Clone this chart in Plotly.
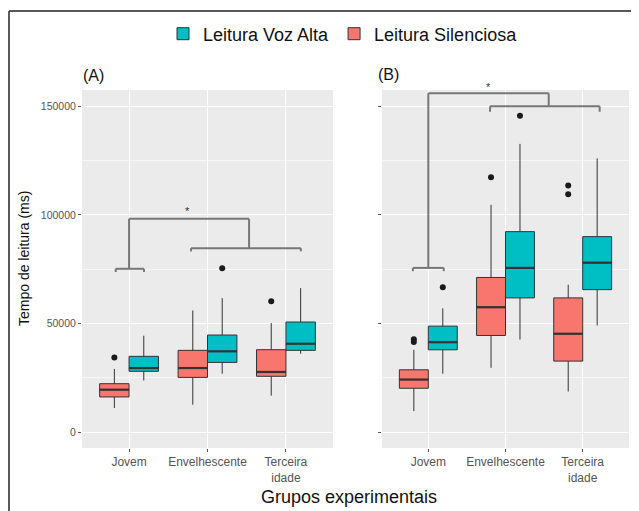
import plotly.graph_objects as go

# Page is 639x511 but the browser's default body margin offsets the figure by 8px.
OFF = 8
W, H = 639 - OFF, 511 - OFF

def px(x):
    return (x - OFF) / W

def py(y):
    return 1 - (y - OFF) / H

categories = ["Jovem", "Envelhescente", "Terceira<br>idade"]
series_names = ["Leitura Voz Alta", "Leitura Silenciosa"]

# Panel A stats: [low whisker, q1, median, q3, high whisker]
a_silent_low = [11100, 12650, 16800]
a_silent_q1 = [16200, 25200, 25700]
a_silent_med = [19550, 29500, 27700]
a_silent_q3 = [22300, 37650, 37950]
a_silent_high = [29100, 56000, 50200]
a_silent_out_cat = [1, 3]
a_silent_out_val = [34400, 60200]

a_voz_low = [23800, 26900, 36100]
a_voz_q1 = [28000, 32100, 37650]
a_voz_med = [29500, 37200, 40700]
a_voz_q3 = [34900, 44700, 50700]
a_voz_high = [44400, 61700, 66300]
a_voz_out_cat = [2]
a_voz_out_val = [75500]

# Panel B stats
b_silent_low = [9700, 29600, 18700]
b_silent_q1 = [20200, 44500, 32700]
b_silent_med = [24200, 57500, 45300]
b_silent_q3 = [28700, 71200, 61800]
b_silent_high = [37900, 104600, 67900]
b_silent_out_cat = [1, 1, 2, 3, 3]
b_silent_out_val = [41500, 42800, 117300, 109500, 113500]

b_voz_low = [26900, 42600, 49100]
b_voz_q1 = [37900, 61800, 65600]
b_voz_med = [41400, 75600, 78000]
b_voz_q3 = [48800, 92300, 90000]
b_voz_high = [57000, 132700, 126000]
b_voz_out_cat = [1, 2]
b_voz_out_val = [66700, 145700]

y_ticks = [0, 50000, 100000, 150000]
y_minor = [25000, 75000, 125000]

RED = "#F8766D"
TEAL = "#00BFC4"
DODGE = 0.1875
BW = 0.375

fig = go.Figure()

def add_panel(xa, ya, silent, voz, sil_out, voz_out, legend):
    for name, stats, color, off, outs in [
        ("Leitura Voz Alta", voz, TEAL, DODGE, voz_out),
        ("Leitura Silenciosa", silent, RED, -DODGE, sil_out),
    ]:
        low, q1, med, q3, high = stats
        xs = [i + 1 + off for i in range(3)]
        fig.add_trace(go.Box(
            x=xs, q1=q1, median=med, q3=q3, lowerfence=low, upperfence=high,
            width=BW, fillcolor=color, line=dict(color="#333333", width=1),
            whiskerwidth=0, boxpoints=False, name=name, legendgroup=name,
            showlegend=legend, xaxis=xa, yaxis=ya, hoverinfo="skip"))
        mx, my = [], []
        for x, m in zip(xs, med):
            mx += [x - BW / 2, x + BW / 2, None]
            my += [m, m, None]
        fig.add_trace(go.Scatter(x=mx, y=my, mode="lines",
                                 line=dict(color="#333333", width=2.2),
                                 showlegend=False, xaxis=xa, yaxis=ya, hoverinfo="skip"))
        oc, ov = outs
        fig.add_trace(go.Scatter(x=[c + off for c in oc], y=ov, mode="markers",
                                 marker=dict(color="#1a1a1a", size=6),
                                 showlegend=False, xaxis=xa, yaxis=ya, hoverinfo="skip"))

add_panel("x", "y",
          (a_silent_low, a_silent_q1, a_silent_med, a_silent_q3, a_silent_high),
          (a_voz_low, a_voz_q1, a_voz_med, a_voz_q3, a_voz_high),
          (a_silent_out_cat, a_silent_out_val), (a_voz_out_cat, a_voz_out_val), True)
add_panel("x2", "y2",
          (b_silent_low, b_silent_q1, b_silent_med, b_silent_q3, b_silent_high),
          (b_voz_low, b_voz_q1, b_voz_med, b_voz_q3, b_voz_high),
          (b_silent_out_cat, b_silent_out_val), (b_voz_out_cat, b_voz_out_val), False)

BR = dict(color="#777777", width=2)
TK = 1500
shapes = []
def seg(xr, yr, x0, y0, x1, y1):
    shapes.append(dict(type="line", xref=xr, yref=yr, x0=x0, y0=y0, x1=x1, y1=y1, line=BR))

# Panel A brackets
seg("x", "y", 0.83, 75200, 1.19, 75200)
seg("x", "y", 0.83, 75200, 0.83, 75200 - TK)
seg("x", "y", 1.19, 75200, 1.19, 75200 - TK)
seg("x", "y", 1.0, 75200, 1.0, 98200)
seg("x", "y", 1.0, 98200, 2.53, 98200)
seg("x", "y", 2.53, 98200, 2.53, 84700)
seg("x", "y", 1.79, 84700, 3.19, 84700)
seg("x", "y", 1.79, 84700, 1.79, 84700 - TK)
seg("x", "y", 3.19, 84700, 3.19, 84700 - TK)
# Panel B brackets
seg("x2", "y2", 0.8, 75600, 1.2, 75600)
seg("x2", "y2", 0.8, 75600, 0.8, 75600 - TK)
seg("x2", "y2", 1.2, 75600, 1.2, 75600 - TK)
seg("x2", "y2", 1.0, 75600, 1.0, 156000)
seg("x2", "y2", 1.0, 156000, 2.56, 156000)
seg("x2", "y2", 2.56, 156000, 2.56, 150000)
seg("x2", "y2", 1.8, 150000, 3.22, 150000)
seg("x2", "y2", 1.8, 150000, 1.8, 150000 - 2500)
seg("x2", "y2", 3.22, 150000, 3.22, 150000 - 2500)

# outer border lines (left and top)
shapes.append(dict(type="line", xref="paper", yref="paper", x0=px(9), y0=0, x1=px(9), y1=py(11),
                   line=dict(color="#222222", width=1.5)))
shapes.append(dict(type="line", xref="paper", yref="paper", x0=px(9), y0=py(11), x1=1, y1=py(11),
                   line=dict(color="#222222", width=1.5)))

FONT = "Liberation Sans, Arial, sans-serif"
annotations = [
    dict(text="*", x=1.75, y=101600, xref="x", yref="y", showarrow=False,
         font=dict(size=11, color="#333333", family=FONT)),
    dict(text="*", x=px(488.5), y=py(87), xref="paper", yref="paper", showarrow=False,
         xanchor="center", yanchor="middle",
         font=dict(size=11, color="#333333", family=FONT)),
    dict(text="(A)", x=px(81), y=py(76), xref="paper", yref="paper", showarrow=False,
         xanchor="left", yanchor="middle", font=dict(size=16, color="#111111", family=FONT)),
    dict(text="(B)", x=px(376), y=py(74), xref="paper", yref="paper", showarrow=False,
         xanchor="left", yanchor="middle", font=dict(size=16, color="#111111", family=FONT)),
    dict(text="Tempo de leitura (ms)", x=px(24), y=py(259), xref="paper", yref="paper",
         showarrow=False, textangle=-90, xanchor="center", yanchor="middle",
         font=dict(size=14, color="#111111", family=FONT)),
    dict(text="Grupos experimentais", x=px(349), y=py(497), xref="paper", yref="paper",
         showarrow=False, xanchor="center", yanchor="middle",
         font=dict(size=18, color="#111111", family=FONT)),
]

xax = dict(range=[0.4, 3.6], tickvals=[1, 2, 3], ticktext=categories, showgrid=True,
           gridcolor="white", gridwidth=1.2, zeroline=False, ticks="outside", ticklen=3,
           tickcolor="#555555", tickfont=dict(size=12, color="#555555", family=FONT), fixedrange=True)
yax = dict(range=[-7300, 157500], tickvals=y_ticks, ticktext=[str(v) for v in y_ticks],
           showgrid=True, gridcolor="white", gridwidth=1.2, zeroline=False, ticks="outside",
           ticklen=3, tickcolor="#555555", tickfont=dict(size=10.5, color="#555555", family=FONT),
           minor=dict(tickvals=y_minor, showgrid=True, gridcolor="#F7F7F7", gridwidth=0.6, ticks=""))

ydom = [py(448), py(90)]
fig.update_layout(
    width=W, height=H, margin=dict(l=0, r=0, t=0, b=0),
    paper_bgcolor="white", plot_bgcolor="#EBEBEB",
    xaxis=dict(domain=[px(82), px(333)], anchor="y", **xax),
    xaxis2=dict(domain=[px(382), px(629)], anchor="y2", **xax),
    yaxis=dict(domain=ydom, anchor="x", **yax),
    yaxis2=dict(domain=ydom, anchor="x2", showticklabels=False, **yax),
    boxmode="overlay",
    shapes=shapes, annotations=annotations,
    legend=dict(orientation="h", x=px(343), y=py(34), xanchor="center", yanchor="middle",
                font=dict(size=18, color="#111111", family=FONT), itemwidth=30,
                bgcolor="rgba(0,0,0,0)"),
    font=dict(family=FONT),
)

fig.write_html("out.html")
